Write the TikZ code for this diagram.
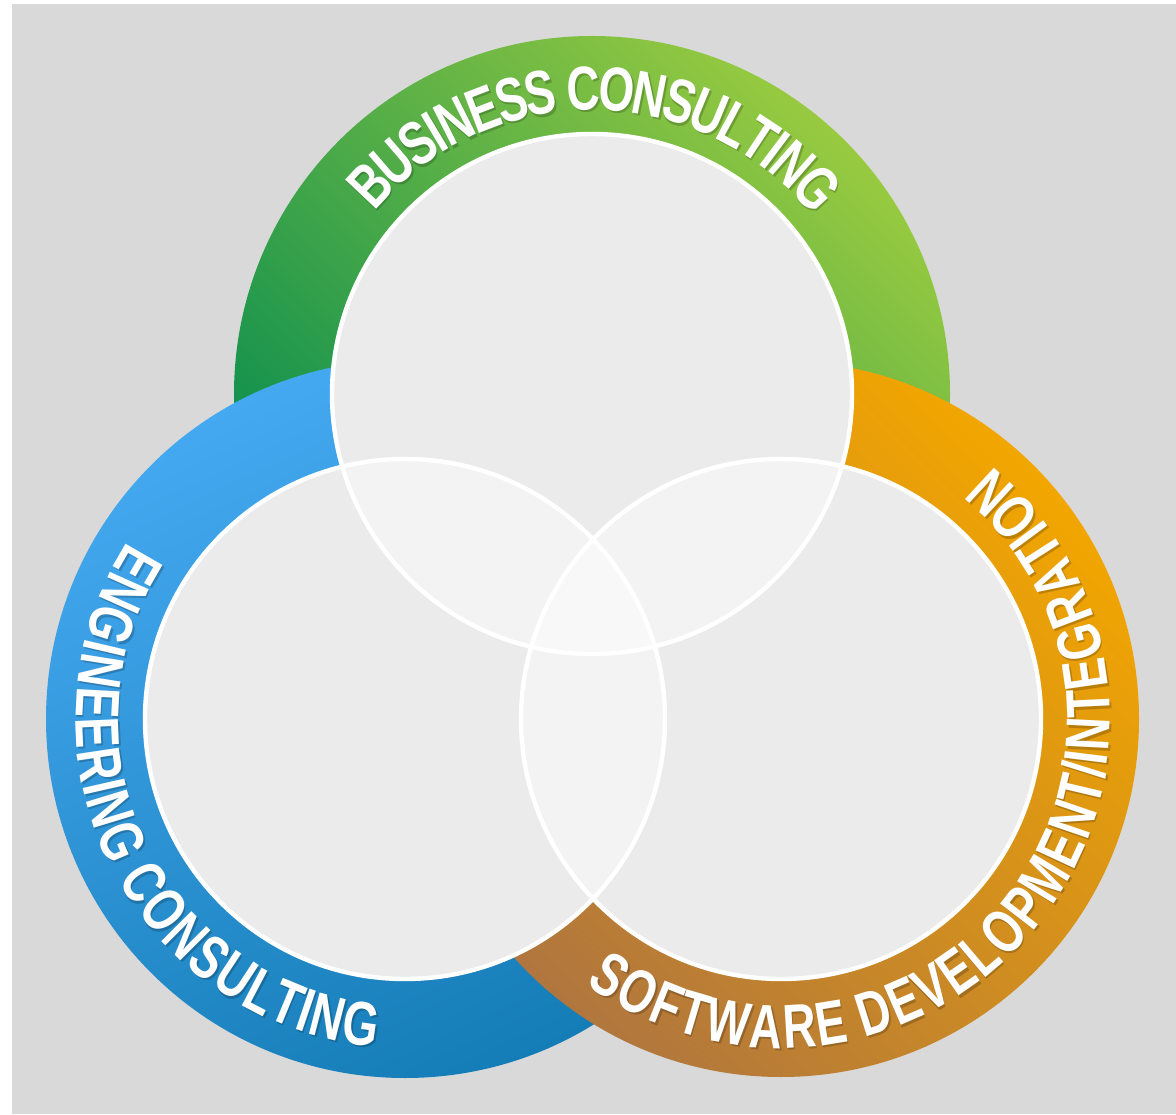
\documentclass[tikz,border=0pt]{standalone}
\usepackage{fontspec}
\newfontfamily\ringfont[FakeStretch=0.74]{Liberation Sans}
\usetikzlibrary{calc}
\definecolor{bg}{HTML}{D9D9D9}
\definecolor{innerfill}{HTML}{EBEBEB}
\definecolor{pairfill}{HTML}{F3F3F3}
\definecolor{triplefill}{HTML}{F8F8F8}
\definecolor{greenlight}{HTML}{98CA40}
\definecolor{greendark}{HTML}{008A50}
\definecolor{bluelight}{HTML}{45A9F1}
\definecolor{bluedark}{HTML}{147CB6}
\definecolor{orangelight}{HTML}{F2A600}
\definecolor{orangedark}{HTML}{B0763E}
\newcommand{\lblfont}{\ringfont\bfseries\fontsize{31pt}{31pt}\selectfont}
\def\spc{\ }
\def\slashch{/}
\tikzset{
  letter/.style={inner sep=0pt, outer sep=0pt, text height=22.2pt, text depth=0pt, anchor=center},
  innerline/.style={draw=white, line width=2.2pt},
}
% #1 centre, #2 radius, #3 middle angle, #4 span (deg), #5 direction (+1 ccw / -1 cw),
% #6 colour, #7 name prefix, #8 list of character/advance-width pairs
\newcommand\ringlabel[8]{%
  \gdef\rlsum{0}%
  \foreach \ch/\wu in {#8}{%
    \pgfmathsetmacro\rltmp{\rlsum+\wu/100}\xdef\rlsum{\rltmp}%
  }%
  \pgfmathsetmacro\rltmp{(#3)-(#5)*(#4)/2}\xdef\rlcur{\rltmp}%
  \foreach \ch/\wu [count=\k] in {#8}{%
    \pgfmathsetmacro\rldeg{(\wu/100)/\rlsum*(#4)}%
    \pgfmathsetmacro\rla{\rlcur+(#5)*\rldeg/2}%
    \pgfmathsetmacro\rlrot{\rla+(#5)*90}%
    \node[letter, text=#6, rotate=\rlrot] (#7\k) at ($(#1)+(\rla:#2)$) {\lblfont\ch};
    \pgfmathsetmacro\rltmp{\rlcur+(#5)*\rldeg}\xdef\rlcur{\rltmp}%
  }%
}
\newcommand\alllabels[2]{%
  \ringlabel{T}{306}{89.5}{100.5}{-1}{#1}{#2bc}{B/722,U/722,S/667,I/278,N/722,E/667,S/667,S/667,\spc/278,C/722,O/778,N/722,S/667,U/722,L/611,T/611,I/278,N/722,G/778}
  \ringlabel{L}{307}{206.2}{118}{1}{#1}{#2ec}{E/667,N/722,G/778,I/278,N/722,E/667,E/667,R/722,I/278,N/722,G/778,\spc/278,C/722,O/778,N/722,S/667,U/722,L/611,T/611,I/278,N/722,G/778}
  \ringlabel{R}{307}{321.9}{176.9}{1}{#1}{#2sd}{S/667,O/778,F/611,T/611,W/944,A/722,R/722,E/667,\spc/278,D/722,E/667,V/667,E/667,L/611,O/778,P/667,M/833,E/667,N/722,T/611,\slashch/278,I/278,N/722,T/611,E/667,G/778,R/722,A/722,T/611,I/278,O/778,N/722}
}
\begin{document}
\begin{tikzpicture}[x=0.5pt,y=0.5pt]
\useasboundingbox (0,0) rectangle (1176,1114);
\fill[white] (0,0) rectangle (1176,1114);
\fill[bg] (12,0) rectangle (1176,1110);
\coordinate (T) at (592,720);
\coordinate (L) at (405,395);
\coordinate (R) at (781,395);
% rings
\shade[top color=greenlight, bottom color=greendark, shading angle=-45] (T) circle[radius=358];
\shade[top color=bluelight, bottom color=bluedark, shading angle=25] (L) circle[radius=359];
\shade[top color=orangelight, bottom color=orangedark, shading angle=-45] (R) circle[radius=358];
% ring labels: soft shadows, then white letters
\begin{scope}[transform canvas={shift={(0.8pt,-1.1pt)}}, opacity=0.2]
\alllabels{black}{s}
\end{scope}
\alllabels{white}{w}
% inner circles
\fill[innerfill] (T) circle[radius=260];
\fill[innerfill] (L) circle[radius=260];
\fill[innerfill] (R) circle[radius=260];
\begin{scope}
  \clip (T) circle[radius=260];
  \fill[pairfill] (L) circle[radius=260];
  \fill[pairfill] (R) circle[radius=260];
\end{scope}
\begin{scope}
  \clip (L) circle[radius=260];
  \fill[pairfill] (R) circle[radius=260];
\end{scope}
\begin{scope}
  \clip (T) circle[radius=260];
  \clip (L) circle[radius=260];
  \fill[triplefill] (R) circle[radius=260];
\end{scope}
\draw[innerline] (T) circle[radius=260];
\draw[innerline] (L) circle[radius=260];
\draw[innerline] (R) circle[radius=260];
\end{tikzpicture}
\end{document}
